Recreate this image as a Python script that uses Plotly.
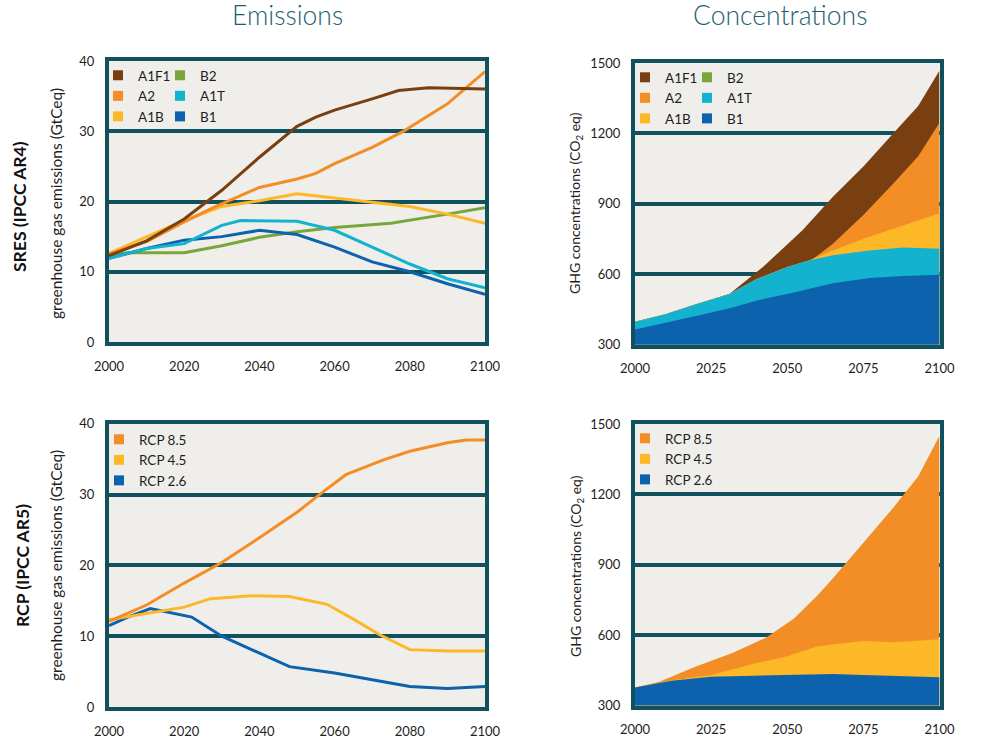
import plotly.graph_objects as go

# ---------------- data ----------------
# SRES emissions (GtCeq)
a1f1_em_years = [2000, 2010, 2020, 2030, 2040, 2050, 2055, 2060, 2070, 2077, 2085, 2100]
a1f1_em = [12.3, 14.4, 17.5, 21.6, 26.3, 30.7, 32.0, 33.0, 34.6, 35.8, 36.2, 36.0]
a2_em_years = [2000, 2010, 2020, 2028, 2040, 2050, 2055, 2060, 2070, 2078, 2090, 2100]
a2_em = [12.5, 14.3, 17.1, 19.2, 22.0, 23.2, 24.0, 25.4, 27.7, 29.9, 33.9, 38.5]
a1b_em_years = [2000, 2010, 2020, 2030, 2040, 2050, 2060, 2070, 2080, 2090, 2100]
a1b_em = [12.6, 14.9, 17.3, 19.3, 20.1, 21.1, 20.5, 19.9, 19.3, 18.2, 16.9]
b2_em_years = [2000, 2005, 2020, 2030, 2040, 2050, 2060, 2075, 2090, 2100]
b2_em = [12.3, 12.7, 12.7, 13.7, 14.9, 15.7, 16.3, 16.9, 18.2, 19.1]
a1t_em_years = [2000, 2010, 2020, 2030, 2035, 2040, 2050, 2060, 2070, 2080, 2090, 2100]
a1t_em = [11.9, 13.3, 14.0, 16.6, 17.3, 17.3, 17.2, 15.9, 13.5, 11.1, 9.0, 7.7]
b1_em_years = [2000, 2010, 2020, 2030, 2040, 2050, 2060, 2070, 2080, 2090, 2100]
b1_em = [11.9, 13.3, 14.5, 15.0, 15.9, 15.3, 13.5, 11.4, 10.0, 8.3, 6.8]

# RCP emissions (GtCeq)
rcp85_em_years = [2000, 2010, 2020, 2030, 2040, 2050, 2057, 2063, 2073, 2080, 2090, 2095, 2100]
rcp85_em = [12.1, 14.4, 17.5, 20.4, 23.9, 27.5, 30.4, 32.8, 34.9, 36.1, 37.3, 37.7, 37.7]
rcp45_em_years = [2000, 2010, 2020, 2027, 2038, 2048, 2058, 2065, 2072, 2080, 2090, 2100]
rcp45_em = [12.3, 13.2, 14.1, 15.3, 15.7, 15.6, 14.5, 12.4, 10.2, 8.1, 7.9, 7.9]
rcp26_em_years = [2000, 2005, 2011, 2022, 2030, 2038, 2048, 2060, 2070, 2080, 2090, 2100]
rcp26_em = [11.5, 12.7, 13.9, 12.7, 10.0, 8.1, 5.7, 4.8, 3.8, 2.9, 2.6, 2.9]

# SRES concentrations (CO2 eq)
a1f1_co_years = [2000, 2010, 2020, 2031, 2042, 2055, 2065, 2075, 2085, 2093, 2100]
a1f1_co = [397, 429, 472, 515, 630, 787, 930, 1059, 1203, 1317, 1468]
a2_co_years = [2000, 2010, 2020, 2031, 2040, 2050, 2058, 2065, 2075, 2085, 2093, 2100]
a2_co = [397, 429, 472, 515, 579, 630, 660, 730, 852, 988, 1102, 1245]
a1b_co_years = [2000, 2010, 2020, 2031, 2040, 2050, 2057, 2065, 2075, 2085, 2093, 2100]
a1b_co = [397, 429, 472, 515, 579, 630, 658, 701, 751, 794, 830, 859]
a1t_co_years = [2000, 2010, 2020, 2031, 2040, 2050, 2057, 2065, 2077, 2088, 2100]
a1t_co = [397, 429, 472, 515, 579, 630, 658, 680, 701, 713, 708]
b1_co_years = [2000, 2010, 2020, 2032, 2040, 2050, 2065, 2077, 2088, 2100]
b1_co = [364, 392, 422, 458, 488, 515, 561, 584, 592, 597]

# RCP concentrations (CO2 eq)
rcp85_co_years = [2000, 2008, 2020, 2032, 2043, 2052, 2060, 2065, 2075, 2085, 2093, 2100]
rcp85_co = [377, 401, 466, 524, 589, 669, 770, 842, 994, 1146, 1276, 1450]
rcp45_co_years = [2000, 2012, 2025, 2040, 2050, 2060, 2065, 2075, 2085, 2100]
rcp45_co = [377, 408, 430, 481, 510, 553, 560, 575, 570, 582]
rcp26_co_years = [2000, 2012, 2025, 2040, 2050, 2065, 2075, 2085, 2100]
rcp26_co = [377, 405, 423, 427, 432, 434, 430, 426, 420]

em_ticks = [0, 10, 20, 30, 40]
co_ticks = [300, 600, 900, 1200, 1500]
em_xticks = [2000, 2020, 2040, 2060, 2080, 2100]
co_xticks = [2000, 2025, 2050, 2075, 2100]

sres_col1 = ["A1F1", "A2", "A1B"]
sres_col2 = ["B2", "A1T", "B1"]
rcp_names = ["RCP 8.5", "RCP 4.5", "RCP 2.6"]

# ---------------- style ----------------
C = {
    "A1F1": "#7a3f10", "A2": "#f38d26", "A1B": "#fcb826", "B2": "#79a63b",
    "A1T": "#13b3cf", "B1": "#0c62ad",
    "RCP 8.5": "#f38d26", "RCP 4.5": "#fcb826", "RCP 2.6": "#0c62ad",
}
FRAME = "#11515e"
BG = "#f0eeeb"
FONT = "Lato"
TXT = "#1e1e1e"

fig = go.Figure()

def line(x, y, name, xa, ya):
    fig.add_trace(go.Scatter(x=x, y=y, mode="lines", name=name, showlegend=False,
                             line=dict(color=C[name], width=3), xaxis=xa, yaxis=ya,
                             hoverinfo="skip"))

def area(x, y, name, xa, ya):
    fig.add_trace(go.Scatter(x=x, y=y, mode="lines", name=name, showlegend=False,
                             fill="tozeroy", fillcolor=C[name],
                             line=dict(color=C[name], width=0), xaxis=xa, yaxis=ya,
                             hoverinfo="skip"))

def leg(name, legend, rank):
    fig.add_trace(go.Scatter(x=[None], y=[None], mode="markers", name=name,
                             marker=dict(symbol="square", size=10, color=C[name]),
                             legend=legend, legendrank=rank, showlegend=True,
                             xaxis="x", yaxis="y", hoverinfo="skip"))

# top-left: SRES emissions
line(b2_em_years, b2_em, "B2", "x", "y")
line(b1_em_years, b1_em, "B1", "x", "y")
line(a1t_em_years, a1t_em, "A1T", "x", "y")
line(a1b_em_years, a1b_em, "A1B", "x", "y")
line(a2_em_years, a2_em, "A2", "x", "y")
line(a1f1_em_years, a1f1_em, "A1F1", "x", "y")

# top-right: SRES concentrations (overlapping areas)
area(a1f1_co_years, a1f1_co, "A1F1", "x2", "y2")
area(a2_co_years, a2_co, "A2", "x2", "y2")
area(a1b_co_years, a1b_co, "A1B", "x2", "y2")
area(a1t_co_years, a1t_co, "A1T", "x2", "y2")
area(b1_co_years, b1_co, "B1", "x2", "y2")

# bottom-left: RCP emissions
line(rcp26_em_years, rcp26_em, "RCP 2.6", "x3", "y3")
line(rcp45_em_years, rcp45_em, "RCP 4.5", "x3", "y3")
line(rcp85_em_years, rcp85_em, "RCP 8.5", "x3", "y3")

# bottom-right: RCP concentrations
area(rcp85_co_years, rcp85_co, "RCP 8.5", "x4", "y4")
area(rcp45_co_years, rcp45_co, "RCP 4.5", "x4", "y4")
area(rcp26_co_years, rcp26_co, "RCP 2.6", "x4", "y4")

# legend entries (each column is its own vertical legend)
legend_groups = [
    ("legend", sres_col1), ("legend2", sres_col2),
    ("legend3", sres_col1), ("legend4", sres_col2),
    ("legend5", rcp_names), ("legend6", rcp_names),
]
for lg, names in legend_groups:
    for i, n in enumerate(names):
        leg(n, lg, i + 1)

W, H = 987, 750
def px(x): return x / W
def py(y): return 1 - y / H

dom = {
    "x": [px(109), px(485)], "y": [py(342), py(61)],
    "x2": [px(635), px(939.5)], "y2": [py(344.5), py(63)],
    "x3": [px(109), px(485)], "y3": [py(707), py(423.7)],
    "x4": [px(635), px(939.5)], "y4": [py(705.5), py(424)],
}

tickfont = dict(family=FONT, size=13, color=TXT)
def xaxis(d, ticks, anchor):
    return dict(domain=d, range=[2000, 2100], tickvals=ticks, ticktext=[str(t) for t in ticks],
                showgrid=False, zeroline=False, showline=True, linewidth=4, linecolor=FRAME,
                mirror=True, ticks="", ticklabelstandoff=9, tickfont=tickfont,
                anchor=anchor, fixedrange=True)

def yaxis(d, rng, ticks, anchor):
    return dict(domain=d, range=rng, tickvals=ticks, ticktext=[str(t) for t in ticks],
                showgrid=True, gridcolor=FRAME, gridwidth=4, zeroline=False,
                showline=True, linewidth=4, linecolor=FRAME, mirror=True, ticks="",
                ticklabelstandoff=8, tickfont=tickfont, anchor=anchor, fixedrange=True)

legfont = dict(family=FONT, size=13.5, color=TXT)
def legend(x, y):
    return dict(x=px(x), y=py(y), xanchor="left", yanchor="top", bgcolor="rgba(0,0,0,0)",
                borderwidth=0, font=legfont, itemwidth=30, tracegroupgap=0,
                orientation="v")

fig.update_layout(
    width=W, height=H, margin=dict(l=0, r=0, t=0, b=0, autoexpand=False),
    paper_bgcolor="white", plot_bgcolor=BG, showlegend=True,
    font=dict(family=FONT, color=TXT),
    xaxis=xaxis(dom["x"], em_xticks, "y"), yaxis=yaxis(dom["y"], [0, 40], em_ticks, "x"),
    xaxis2=xaxis(dom["x2"], co_xticks, "y2"), yaxis2=yaxis(dom["y2"], [300, 1500], co_ticks, "x2"),
    xaxis3=xaxis(dom["x3"], em_xticks, "y3"), yaxis3=yaxis(dom["y3"], [0, 40], em_ticks, "x3"),
    xaxis4=xaxis(dom["x4"], co_xticks, "y4"), yaxis4=yaxis(dom["y4"], [300, 1500], co_ticks, "x4"),
    legend=legend(98, 60), legend2=legend(160, 60),
    legend3=legend(625, 62), legend4=legend(687, 62),
    legend5=legend(99, 424), legend6=legend(625, 423),
)

title_font = dict(family=FONT, size=26.5, color="#1d6170", weight=300)
ann = [
    dict(text="Emissions", x=px(287), y=py(15), font=title_font),
    dict(text="Concentrations", x=px(780), y=py(15), font=title_font),
    dict(text="<b>SRES (IPCC AR4)</b>", x=px(19), y=py(207), textangle=-90,
         font=dict(family=FONT, size=17.5, color="#111")),
    dict(text="<b>RCP (IPCC AR5)</b>", x=px(22), y=py(566), textangle=-90,
         font=dict(family=FONT, size=17.5, color="#111")),
    dict(text="greenhouse gas emissions (GtCeq)", x=px(56), y=py(204), textangle=-90,
         font=dict(family=FONT, size=15.5, color=TXT)),
    dict(text="greenhouse gas emissions (GtCeq)", x=px(56), y=py(566), textangle=-90,
         font=dict(family=FONT, size=15.5, color=TXT)),
    dict(text="GHG concentrations (CO<sub>2</sub> eq)", x=px(576), y=py(203), textangle=-90,
         font=dict(family=FONT, size=14, color=TXT)),
    dict(text="GHG concentrations (CO<sub>2</sub> eq)", x=px(576), y=py(566), textangle=-90,
         font=dict(family=FONT, size=14, color=TXT)),
]
for a in ann:
    a.update(xref="paper", yref="paper", showarrow=False, xanchor="center", yanchor="middle")
fig.update_layout(annotations=ann)

fig.write_html("out.html", config={"displayModeBar": False},
               post_script="document.body.style.margin='0';")
